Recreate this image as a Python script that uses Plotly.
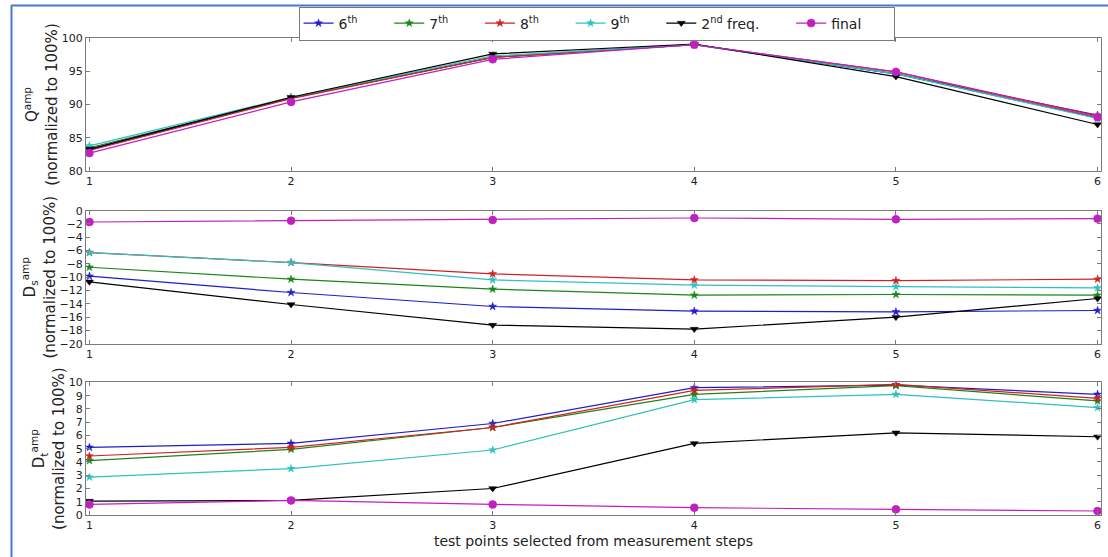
import plotly.graph_objects as go

# Test points (x positions shared by all three panels)
test_points = [1, 2, 3, 4, 5, 6]

series_names = ["6<sup>th</sup>", "7<sup>th</sup>", "8<sup>th</sup>", "9<sup>th</sup>",
                "2<sup>nd</sup> freq.", "final"]

# Q^amp (normalized to 100%)
q_6th = [83.2, 91.0, 97.1, 99.0, 94.6, 88.4]
q_7th = [83.5, 91.0, 97.1, 99.0, 94.6, 88.0]
q_8th = [83.1, 90.9, 97.1, 99.0, 94.9, 88.3]
q_9th = [83.8, 91.1, 97.3, 99.0, 94.6, 87.9]
q_2nd = [83.3, 91.1, 97.6, 99.1, 94.2, 87.0]
q_final = [82.7, 90.4, 96.8, 99.0, 94.9, 88.1]

# Ds^amp (normalized to 100%)
ds_6th = [-9.85, -12.3, -14.4, -15.1, -15.2, -15.0]
ds_7th = [-8.5, -10.3, -11.8, -12.7, -12.6, -12.7]
ds_8th = [-6.3, -7.8, -9.5, -10.4, -10.5, -10.3]
ds_9th = [-6.3, -7.8, -10.4, -11.2, -11.4, -11.6]
ds_2nd = [-10.7, -14.1, -17.2, -17.8, -16.0, -13.2]
ds_final = [-1.7, -1.5, -1.4, -1.1, -1.3, -1.2]

# Dt^amp (normalized to 100%)
dt_6th = [5.1, 5.4, 6.9, 9.6, 9.8, 9.1]
dt_7th = [4.1, 4.95, 6.6, 9.1, 9.75, 8.6]
dt_8th = [4.45, 5.1, 6.6, 9.4, 9.85, 8.8]
dt_9th = [2.85, 3.5, 4.9, 8.7, 9.1, 8.1]
dt_2nd = [1.05, 1.1, 2.0, 5.4, 6.2, 5.9]
dt_final = [0.8, 1.1, 0.8, 0.55, 0.43, 0.3]

colors = ["#1f1fc8", "#1a861a", "#d42020", "#30c0c0", "#000000", "#c020c0"]
symbols = ["star", "star", "star", "star", "triangle-down", "circle"]
sizes = [6, 6, 6, 6, 7, 8]

panels = [
    [q_6th, q_7th, q_8th, q_9th, q_2nd, q_final],
    [ds_6th, ds_7th, ds_8th, ds_9th, ds_2nd, ds_final],
    [dt_6th, dt_7th, dt_8th, dt_9th, dt_2nd, dt_final],
]

# trailing non-breaking spaces give the legend entries their column spacing
column_pad = "\u00a0" * 6

fig = go.Figure()
for p, data in enumerate(panels):
    ax = "" if p == 0 else str(p + 1)
    for i, vals in enumerate(data):
        fig.add_trace(go.Scatter(
            x=test_points, y=vals, name=series_names[i] + column_pad,
            mode="lines+markers",
            line=dict(color=colors[i], width=1.2),
            marker=dict(symbol=symbols[i], size=sizes[i], color=colors[i],
                        line=dict(width=0.5, color=colors[i])),
            xaxis="x" + ax, yaxis="y" + ax,
            showlegend=(p == 0), legendgroup=str(i),
        ))

font_family = "DejaVu Sans, sans-serif"
frame = "#7a7a7a"
tickfont = dict(family=font_family, size=11, color="#222")

def xaxis_cfg(anchor):
    return dict(range=[0.983, 6.017], tickvals=test_points, ticks="inside", ticklen=4,
                tickcolor=frame, showline=True, linecolor=frame, linewidth=1.2,
                mirror="ticks", showgrid=False, zeroline=False, tickfont=tickfont,
                anchor=anchor)

def yaxis_cfg(anchor, rng, dtick, domain, title):
    return dict(range=rng, dtick=dtick, ticks="inside", ticklen=4, tickcolor=frame,
                showline=True, linecolor=frame, linewidth=1.2, mirror="ticks",
                showgrid=False, zeroline=False, tickfont=tickfont, domain=domain,
                anchor=anchor,
                title=dict(text=title, font=dict(family=font_family, size=15, color="#222"),
                           standoff=0))

fig.update_layout(
    width=1108, height=557,
    margin=dict(l=86, r=7, t=38, b=42),
    paper_bgcolor="white", plot_bgcolor="white",
    xaxis=xaxis_cfg("y"),
    xaxis2=xaxis_cfg("y2"),
    xaxis3=dict(xaxis_cfg("y3"),
                title=dict(text="test points selected from measurement steps",
                           font=dict(family=font_family, size=14, color="#222"),
                           standoff=4)),
    yaxis=yaxis_cfg("x", [80, 100], 5, [0.721, 1.0],
                    "Q<sup>amp</sup><br>(normalized to 100%)"),
    yaxis2=yaxis_cfg("x2", [-20, 0], 2, [0.359, 0.638],
                     "D<sub>s</sub><sup>amp</sup><br>(normalized to 100%)"),
    yaxis3=yaxis_cfg("x3", [0, 10], 1, [0.0, 0.278],
                     "D<sub>t</sub><sup>amp</sup><br>(normalized to 100%)"),
    legend=dict(orientation="h", x=0.503, xanchor="center", y=1.066, yanchor="top",
                bgcolor="white", bordercolor=frame, borderwidth=1,
                font=dict(family=font_family, size=14, color="#222"),
                itemwidth=30, tracegroupgap=0),
    shapes=[
        dict(type="line", xref="paper", yref="paper", x0=-0.0734, x1=-0.0734,
             y0=1.068, y1=-0.12, line=dict(color="#4a78cc", width=2)),
        dict(type="line", xref="paper", yref="paper", x0=-0.0739, x1=1.02,
             y0=1.068, y1=1.068, line=dict(color="#4a78cc", width=2)),
    ],
)

fig.write_html("out.html")
